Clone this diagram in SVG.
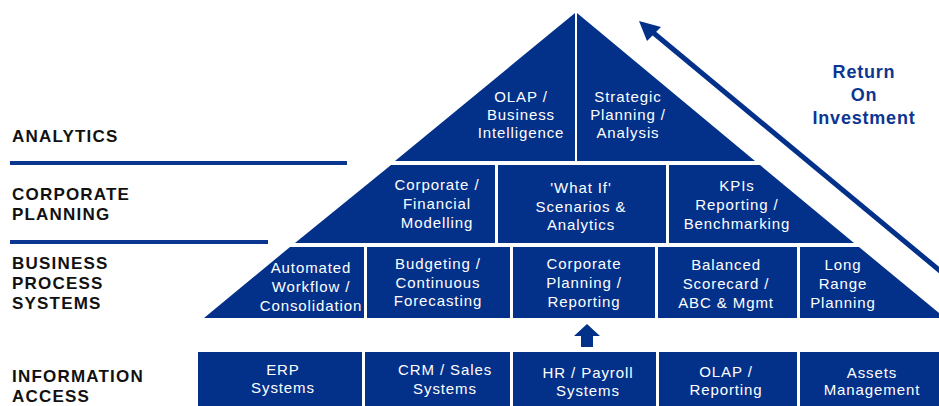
<svg xmlns="http://www.w3.org/2000/svg" width="939" height="406" viewBox="0 0 939 406">
<defs>
<style>
.cell{fill:#03318a}
.t{font-family:"Liberation Sans",Arial,sans-serif;font-size:15px;fill:#ffffff;text-anchor:middle;letter-spacing:0.9px}
.lbl{font-family:"Liberation Sans",Arial,sans-serif;font-size:17px;font-weight:bold;fill:#111111;letter-spacing:1.2px}
.roi{font-family:"Liberation Sans",Arial,sans-serif;font-size:18px;font-weight:bold;fill:#0d3592;text-anchor:middle;letter-spacing:0.8px}
.rule{stroke:#0a3690;stroke-width:4}
</style>
<marker id="ah" markerWidth="10" markerHeight="10" refX="9" refY="5" orient="auto" markerUnits="userSpaceOnUse" viewBox="0 0 10 10">
<path d="M0,0 L10,5 L0,10 Z" fill="#03318a"/>
</marker>
</defs>
<rect width="939" height="406" fill="#ffffff"/>

<g id="layer-labels">
<text class="lbl" x="12" y="142">ANALYTICS</text>
<line class="rule" x1="10" y1="163" x2="347" y2="163"/>
<text class="lbl" x="12" y="200">CORPORATE</text>
<text class="lbl" x="12" y="220">PLANNING</text>
<line class="rule" x1="10" y1="242" x2="268" y2="242"/>
<text class="lbl" x="12" y="269">BUSINESS</text>
<text class="lbl" x="12" y="289">PROCESS</text>
<text class="lbl" x="12" y="309">SYSTEMS</text>
<text class="lbl" x="12" y="382">INFORMATION</text>
<text class="lbl" x="12" y="402">ACCESS</text>
</g>

<g id="olap-bi">
<polygon class="cell" points="575,13 575,161 395,161"/>
<text class="t" x="521" y="102">OLAP /</text>
<text class="t" x="521" y="120">Business</text>
<text class="t" x="521" y="138">Intelligence</text>
</g>
<g id="strategic-planning">
<polygon class="cell" points="577,13 755,161 577,161"/>
<text class="t" x="628" y="102">Strategic</text>
<text class="t" x="628" y="120">Planning /</text>
<text class="t" x="628" y="138">Analysis</text>
</g>

<g id="financial-modelling">
<polygon class="cell" points="391,165 495,165 495,243 295,243"/>
<text class="t" x="437" y="190">Corporate /</text>
<text class="t" x="437" y="209">Financial</text>
<text class="t" x="437" y="228">Modelling</text>
</g>
<g id="what-if">
<polygon class="cell" points="498,165 666,165 666,243 498,243"/>
<text class="t" x="581" y="193">'What If'</text>
<text class="t" x="581" y="212">Scenarios &amp;</text>
<text class="t" x="581" y="230">Analytics</text>
</g>
<g id="kpis">
<polygon class="cell" points="669,165 760,165 854,243 669,243"/>
<text class="t" x="737" y="191">KPIs</text>
<text class="t" x="737" y="210">Reporting /</text>
<text class="t" x="737" y="229">Benchmarking</text>
</g>

<g id="workflow">
<polygon class="cell" points="290,247 364,247 364,318 204,318"/>
<text class="t" x="311" y="273">Automated</text>
<text class="t" x="311" y="292">Workflow /</text>
<text class="t" x="311" y="311">Consolidation</text>
</g>
<g id="budgeting">
<polygon class="cell" points="367,247 510,247 510,318 367,318"/>
<text class="t" x="438" y="269">Budgeting /</text>
<text class="t" x="438" y="288">Continuous</text>
<text class="t" x="438" y="306">Forecasting</text>
</g>
<g id="corporate-planning">
<polygon class="cell" points="513,247 655,247 655,318 513,318"/>
<text class="t" x="584" y="269">Corporate</text>
<text class="t" x="584" y="288">Planning /</text>
<text class="t" x="584" y="307">Reporting</text>
</g>
<g id="balanced-scorecard">
<polygon class="cell" points="658,247 797,247 797,318 658,318"/>
<text class="t" x="726" y="270">Balanced</text>
<text class="t" x="726" y="289">Scorecard /</text>
<text class="t" x="726" y="308">ABC &amp; Mgmt</text>
</g>
<g id="long-range">
<polygon class="cell" points="800,247 859,247 939,313 939,318 800,318"/>
<text class="t" x="843" y="270">Long</text>
<text class="t" x="843" y="289">Range</text>
<text class="t" x="843" y="308">Planning</text>
</g>

<g id="erp">
<rect class="cell" x="198" y="352" width="164" height="54"/>
<text class="t" x="283" y="375">ERP</text>
<text class="t" x="283" y="393">Systems</text>
</g>
<g id="crm">
<rect class="cell" x="365" y="352" width="145" height="54"/>
<text class="t" x="445" y="375">CRM / Sales</text>
<text class="t" x="445" y="394">Systems</text>
</g>
<g id="hr">
<rect class="cell" x="513" y="352" width="143" height="54"/>
<text class="t" x="588" y="378">HR / Payroll</text>
<text class="t" x="588" y="396">Systems</text>
</g>
<g id="olap-reporting">
<rect class="cell" x="659" y="352" width="138" height="54"/>
<text class="t" x="726" y="377">OLAP /</text>
<text class="t" x="726" y="395">Reporting</text>
</g>
<g id="assets">
<rect class="cell" x="800" y="352" width="139" height="54"/>
<text class="t" x="872" y="378">Assets</text>
<text class="t" x="872" y="395">Management</text>
</g>

<g id="roi-label">
<text class="roi" x="864" y="78">Return</text>
<text class="roi" x="864" y="101">On</text>
<text class="roi" x="864" y="124">Investment</text>
</g>

<g id="connectors">
<line x1="945" y1="275" x2="650" y2="30" stroke="#03318a" stroke-width="5"/>
<polygon points="639,21 661,27 647,41" fill="#03318a"/>
<polygon points="587,324 600,336 593,336 593,347 581,347 581,336 574,336" fill="#03318a"/>
</g>
</svg>
